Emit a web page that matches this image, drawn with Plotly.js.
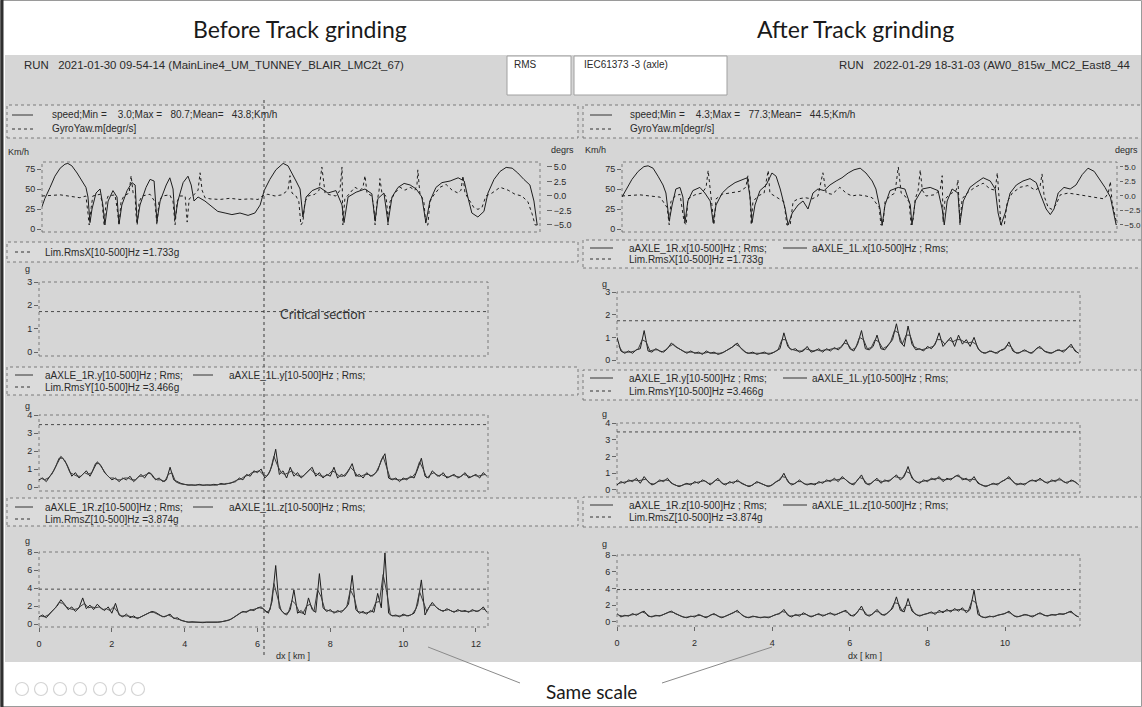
<!DOCTYPE html>
<html>
<head>
<meta charset="utf-8">
<script src="https://cdn.plot.ly/plotly-3.0.1.min.js"></script>
<style>
  html, body { margin: 0; padding: 0; background: #ffffff; overflow: hidden; }
  #chart { width: 1142px; height: 707px; }
</style>
</head>
<body>
<div id="chart"></div>
<script>
// ---------------------------------------------------------------------------
// Run data: speed / yaw rate, and axle-box RMS acceleration per axis
// ---------------------------------------------------------------------------

// Limit values (g) from the IEC61373 category 3 (axle) profile
const LIM_RMS_X = 1.733;
const LIM_RMS_Y = 3.466;
const LIM_RMS_Z = 3.874;

// Before grinding: speed (km/h) and yaw rate (deg/s) along the track (km)
const BEFORE_SPEED_KM = [0.00,0.07,0.20,0.32,0.45,0.57,0.64,0.74,0.87,0.99,1.09,1.14,1.19,1.24,1.34,1.44,1.51,1.56,1.64,1.76,1.86,1.91,1.98,2.11,2.23,2.31,2.36,2.43,2.58,2.68,2.78,2.85,2.93,3.08,3.17,3.25,3.30,3.37,3.50,3.62,3.70,3.77,3.87,4.04,4.22,4.36,4.54,4.71,4.91,5.11,5.28,5.41,5.51,5.65,5.80,5.98,6.10,6.20,6.30,6.40,6.47,6.55,6.70,6.89,7.09,7.29,7.44,7.49,7.59,7.79,8.01,8.18,8.26,8.33,8.48,8.58,8.68,8.83,8.98,9.13,9.28,9.42,9.52,9.62,9.77,9.92,10.12,10.32,10.47,10.56,10.66,10.81,10.96,11.06,11.21,11.36,11.51,11.66,11.80,11.95,12.10,12.20,12.28];
const BEFORE_SPEED_KMH = [28,38,52,66,76,81,82,79,70,60,52,40,8,25,45,50,30,5,35,48,40,6,30,48,58,55,8,30,52,62,60,10,35,55,64,50,12,35,58,66,55,35,40,35,28,22,20,18,20,17,20,30,48,62,74,82,79,70,60,50,15,40,48,52,45,48,30,8,40,46,50,44,10,38,45,8,40,52,57,55,50,40,8,35,52,58,60,64,60,40,20,15,22,45,62,72,77,76,70,62,55,35,5];
const BEFORE_YAW_KM = [0.00,0.45,0.94,1.09,1.14,1.17,1.22,1.26,1.44,1.49,1.54,1.59,1.64,1.81,1.86,1.91,1.96,2.03,2.16,2.21,2.26,2.31,2.33,2.36,2.41,2.48,2.68,2.80,2.85,2.90,2.98,3.17,3.25,3.30,3.35,3.42,3.55,3.60,3.65,3.74,3.87,3.92,3.97,4.04,4.17,4.41,4.66,4.91,5.16,5.36,5.46,5.60,5.78,5.95,6.10,6.15,6.20,6.30,6.37,6.42,6.47,6.52,6.60,6.77,6.87,6.94,7.02,7.14,7.29,7.39,7.44,7.46,7.51,7.64,7.76,7.89,7.96,8.01,8.06,8.18,8.23,8.26,8.31,8.36,8.38,8.43,8.53,8.56,8.58,8.63,8.75,8.88,9.00,9.13,9.25,9.30,9.32,9.37,9.47,9.52,9.57,9.62,9.70,9.87,10.02,10.17,10.32,10.39,10.44,10.49,10.61,10.71,10.81,10.91,11.01,11.16,11.36,11.56,11.73,11.90,12.05,12.15,12.23,12.30];
const BEFORE_YAW_DEG = [0,0.2,-0.3,0,-3,-5,-2,0,0.3,-1,-5,-1,0,0.2,-2,-5,-1,0,0.5,3.5,0.5,0,-3,-5,-1,0,0.3,-1,-5,-1,0,0.2,-1,-5,-1,0,0,-4.5,-0.5,0,1,4,1,-0.3,-0.5,-0.6,-0.4,-0.6,-0.5,-0.6,0,0.3,0,0.2,1,3.5,0.5,0,-1,-5,-4.5,-1,0,0.3,1,5,0.5,0.2,0,1,5,-5,-0.5,0.5,1.5,1,1.5,3.5,0.5,0,-2,-5,-1,1,3,0.5,0,-2,-5,-1,0.5,1.5,1,1.5,1,2,4.5,0.5,-1,-5,-5,-1,0,1.5,2,1,0.5,1,3.5,0.5,-1,-2,-2.3,-2,0,0.5,1.5,1,0.3,0,-1,-3,-5,-5];

// After grinding: speed (km/h) and yaw rate (deg/s) along the track (km)
const AFTER_SPEED_KM = [0.00,0.10,0.24,0.39,0.53,0.63,0.75,0.87,0.99,1.06,1.14,1.21,1.30,1.40,1.47,1.52,1.59,1.71,1.88,2.00,2.13,2.20,2.27,2.42,2.56,2.73,2.90,3.02,3.09,3.14,3.21,3.33,3.48,3.62,3.72,3.82,3.94,4.01,4.11,4.25,4.37,4.49,4.61,4.73,4.88,5.02,5.17,5.31,5.46,5.60,5.75,5.89,6.04,6.13,6.23,6.28,6.35,6.47,6.67,6.83,6.96,7.00,7.08,7.25,7.44,7.63,7.73,7.78,7.85,7.97,8.11,8.16,8.24,8.40,8.55,8.72,8.89,9.01,9.08,9.15,9.25,9.37,9.52,9.68,9.85,10.00,10.09,10.24,10.34,10.43,10.53,10.67,10.82,10.96,11.11,11.25,11.40,11.54,11.66,11.79,11.88,11.93];
const AFTER_SPEED_KMH = [40,50,62,72,78,79,76,66,55,45,10,30,50,52,40,8,35,48,52,45,35,8,30,45,52,58,62,64,40,8,30,48,55,70,66,50,25,5,20,30,35,25,45,50,48,55,60,64,70,74,76,70,60,50,25,5,30,48,52,50,30,5,35,50,52,48,25,5,35,50,45,8,35,52,58,64,60,50,20,5,20,45,55,60,63,58,45,25,18,25,45,52,50,55,68,76,72,62,52,40,20,5];
const AFTER_YAW_KM = [0.00,0.43,0.92,1.09,1.14,1.18,1.28,1.40,1.50,1.55,1.59,1.76,1.93,2.03,2.08,2.13,2.17,2.22,2.27,2.42,2.61,2.85,2.99,3.04,3.09,3.12,3.16,3.28,3.43,3.53,3.57,3.69,3.91,3.98,4.06,4.13,4.25,4.42,4.59,4.73,4.85,4.93,5.07,5.26,5.41,5.55,5.70,5.89,6.04,6.21,6.25,6.30,6.35,6.47,6.59,6.67,6.74,6.83,6.93,6.98,7.03,7.08,7.15,7.20,7.25,7.34,7.53,7.68,7.73,7.75,7.80,7.92,8.07,8.11,8.16,8.21,8.33,8.52,8.72,8.89,9.01,9.06,9.10,9.15,9.23,9.30,9.42,9.61,9.80,9.97,10.09,10.14,10.19,10.29,10.38,10.48,10.58,10.77,10.96,11.18,11.42,11.64,11.74,11.79,11.83,11.91,11.95];
const AFTER_YAW_DEG = [0,0.2,-0.2,-2,-5,-1,0,0.3,-4.5,-5,-0.5,0.2,0.5,1.5,4.4,0.5,-1.5,-5,-0.5,0.3,0.5,0.8,1.5,3.5,0,-5,-1,0,0.5,4.4,0.5,0,-1,-5,-5,-1,-0.5,-0.3,-0.5,0,4,0.5,0.3,1.5,0.5,0,0.2,0,-0.3,-2,-5,-5,-1,0,0.5,5,0.5,0,-1,-5,-4,-0.5,1,4.5,1,0,0.2,1,3.5,-4.5,-0.5,0.3,1,2.8,-5,-0.5,0.5,1.5,2.2,1.2,1,4,-1,-5,-5,-1,0.5,1.5,1.8,1,1.5,3.8,0,-2,-2.3,-1.5,0.2,0.5,0.3,0,-0.3,-0.5,0.5,2.5,-1,-4,-5];

// RMS accelerations (g). Sensor 1R is logged every 100 m from 0 km,
// sensor 1L every 100 m starting 50 m in.
const RMS_SAMPLE_KM = 0.1;
const RMS_1L_START_KM = 0.05;

const BEFORE_Y_1R = [0.4,0.5,0.3,0.6,0.9,1.3,1.7,1.5,1.1,0.6,0.8,0.5,0.7,0.9,0.6,1.0,1.4,1.2,0.8,0.6,0.4,0.5,0.3,0.5,0.4,0.6,0.3,0.5,0.7,0.5,0.8,0.7,0.4,0.5,0.3,0.4,1.1,0.4,0.3,0.2,0.15,0.1,0.12,0.1,0.15,0.1,0.12,0.1,0.15,0.12,0.2,0.15,0.2,0.25,0.3,0.5,0.4,0.7,0.6,0.9,0.8,1.0,0.5,0.7,1.2,2.1,0.7,0.9,0.5,1.1,0.6,0.8,0.5,0.7,0.9,1.1,0.6,0.8,0.5,0.7,0.6,1.1,0.5,0.7,0.6,0.9,1.3,0.6,0.7,0.5,0.8,0.6,0.7,0.9,1.5,1.85,0.5,0.4,0.5,0.3,0.5,0.4,0.6,0.5,1.0,1.6,0.6,0.5,0.9,0.7,0.6,0.8,0.5,0.6,0.7,0.5,0.6,0.8,0.5,0.6,0.7,0.5,0.8,0.6];
const BEFORE_Y_1L = [0.5,0.4,0.5,0.7,1.1,1.6,1.6,1.3,0.8,0.7,0.6,0.6,0.8,0.7,0.8,1.3,1.3,1.0,0.7,0.5,0.5,0.4,0.4,0.5,0.5,0.4,0.4,0.6,0.6,0.7,0.8,0.5,0.4,0.4,0.3,0.7,0.8,0.3,0.2,0.15,0.12,0.1,0.1,0.12,0.1,0.1,0.12,0.12,0.1,0.15,0.15,0.2,0.2,0.3,0.4,0.45,0.6,0.65,0.8,0.85,0.9,0.7,0.6,0.9,1.7,1.2,0.8,0.7,0.8,0.9,0.7,0.6,0.6,0.8,1.0,0.8,0.7,0.6,0.6,0.7,0.9,0.8,0.6,0.6,0.8,1.1,0.9,0.6,0.6,0.7,0.7,0.6,0.8,1.2,1.7,1.0,0.45,0.45,0.4,0.4,0.45,0.5,0.55,0.8,1.4,1.0,0.5,0.7,0.8,0.6,0.7,0.6,0.55,0.65,0.6,0.55,0.7,0.65,0.55,0.65,0.6,0.65,0.7];
const BEFORE_Z_1R = [0.8,1.0,0.7,1.2,1.6,2.0,2.7,2.2,1.6,1.9,1.4,1.8,2.9,1.7,2.1,1.6,2.2,1.8,1.5,1.9,1.2,2.3,1.0,0.8,1.1,0.7,0.9,0.6,0.8,1.0,1.2,1.4,1.3,1.0,0.8,0.9,1.1,0.6,0.7,0.4,0.3,0.2,0.25,0.2,0.2,0.15,0.2,0.2,0.15,0.2,0.25,0.3,0.4,0.6,0.9,1.2,1.4,1.3,1.6,1.5,1.8,1.9,1.5,1.2,2.5,6.5,1.8,1.3,1.0,1.6,3.8,1.2,1.5,1.0,2.9,1.6,1.3,5.6,1.8,1.4,1.6,1.2,1.5,1.3,1.7,2.2,5.4,1.6,1.2,1.4,1.1,1.5,1.3,3.4,1.8,7.9,1.2,0.9,1.0,0.8,1.1,0.9,1.0,1.2,2.2,4.9,1.0,1.8,2.4,1.9,1.6,1.4,1.7,1.5,1.3,1.6,1.4,1.5,1.3,1.6,1.4,1.5,1.9,1.3];
const BEFORE_Z_1L = [0.9,0.8,1.0,1.4,1.8,2.4,2.3,1.9,1.7,1.6,1.7,2.0,2.3,1.8,1.9,1.8,1.9,1.6,1.7,1.5,1.9,1.4,0.9,0.9,0.9,0.8,0.7,0.7,0.9,1.1,1.3,1.3,1.1,0.9,0.8,1.0,0.8,0.6,0.5,0.35,0.25,0.2,0.2,0.2,0.18,0.18,0.2,0.18,0.18,0.22,0.28,0.35,0.5,0.75,1.0,1.3,1.35,1.45,1.55,1.65,1.8,1.7,1.3,1.6,4.5,3.0,1.5,1.1,1.3,2.6,2.2,1.3,1.2,2.0,2.2,1.4,3.8,3.0,1.6,1.5,1.4,1.3,1.4,1.5,1.9,3.8,3.0,1.4,1.3,1.2,1.3,1.4,2.4,2.5,5.5,3.5,1.0,0.9,0.9,0.9,1.0,0.9,1.1,1.7,3.6,2.5,1.4,2.1,2.1,1.7,1.5,1.5,1.6,1.4,1.4,1.5,1.4,1.4,1.4,1.5,1.4,1.7,1.6];

const AFTER_X_1R = [1.0,0.4,0.3,0.4,0.3,0.45,0.5,1.3,0.4,0.35,0.5,0.4,0.35,0.5,0.75,0.6,0.5,0.4,0.3,0.4,0.3,0.35,0.25,0.4,0.3,0.35,0.25,0.3,0.4,0.5,0.6,0.75,0.5,0.35,0.3,0.35,0.25,0.3,0.35,0.25,0.3,0.4,0.5,1.2,0.6,0.45,0.5,0.35,0.4,0.6,0.35,0.4,0.5,0.35,0.5,0.4,0.55,0.45,0.6,0.9,0.5,0.4,0.7,1.3,0.5,0.45,0.6,1.1,0.5,0.45,0.7,0.9,1.6,0.8,0.6,1.5,0.7,0.45,0.5,0.4,0.6,0.5,0.7,1.2,0.6,0.8,1.0,0.6,1.1,0.7,0.9,0.6,1.0,0.5,0.35,0.3,0.4,0.35,0.3,0.45,0.5,0.8,0.4,0.3,0.35,0.45,0.35,0.3,0.5,0.6,0.4,0.35,0.3,0.4,0.45,0.35,0.5,0.7,0.4,0.3];
const AFTER_X_1L = [0.6,0.35,0.35,0.35,0.4,0.5,0.9,0.8,0.4,0.45,0.45,0.35,0.45,0.6,0.7,0.55,0.45,0.35,0.35,0.35,0.3,0.3,0.3,0.35,0.3,0.3,0.3,0.35,0.45,0.55,0.7,0.6,0.45,0.3,0.3,0.3,0.3,0.3,0.3,0.3,0.35,0.45,0.9,0.9,0.5,0.45,0.4,0.4,0.5,0.45,0.4,0.45,0.4,0.45,0.45,0.5,0.5,0.55,0.75,0.7,0.45,0.55,1.0,0.9,0.5,0.55,0.9,0.8,0.5,0.6,0.8,1.3,1.2,0.7,1.1,1.1,0.6,0.5,0.45,0.5,0.55,0.6,0.9,0.9,0.7,0.9,0.8,0.9,0.9,0.8,0.75,0.8,0.7,0.4,0.3,0.35,0.4,0.3,0.4,0.45,0.65,0.6,0.35,0.3,0.4,0.4,0.3,0.4,0.55,0.5,0.35,0.3,0.35,0.45,0.4,0.45,0.6,0.55,0.35];
const AFTER_Y_1R = [0.3,0.5,0.4,0.6,0.5,0.7,0.4,0.8,0.5,0.3,0.4,0.6,0.5,0.7,0.4,0.3,0.2,0.3,0.4,0.3,0.5,0.4,0.6,0.5,0.3,0.5,0.7,0.4,0.3,0.5,0.4,0.6,0.4,0.3,0.2,0.3,0.5,0.4,0.3,0.2,0.3,0.5,0.6,1.0,0.5,0.3,0.4,0.6,0.4,0.3,0.4,0.3,0.5,0.4,0.6,0.5,0.7,0.5,0.8,0.6,0.4,0.3,0.6,0.9,0.4,0.3,0.5,0.7,0.4,0.6,0.5,0.7,0.9,0.6,0.8,1.4,0.7,0.5,0.4,0.6,0.5,0.7,0.6,0.8,0.5,0.7,0.6,0.8,0.9,0.6,0.7,0.5,0.8,0.4,0.3,0.2,0.3,0.4,0.3,0.5,0.6,0.8,0.5,0.3,0.4,0.3,0.5,0.6,0.5,0.7,0.5,0.4,0.6,0.5,0.7,0.5,0.4,0.6,0.5,0.3];
const AFTER_Y_1L = [0.4,0.45,0.5,0.55,0.6,0.55,0.6,0.65,0.4,0.35,0.5,0.55,0.6,0.55,0.35,0.25,0.25,0.35,0.35,0.4,0.45,0.5,0.55,0.4,0.4,0.6,0.55,0.35,0.4,0.45,0.5,0.5,0.35,0.25,0.25,0.4,0.45,0.35,0.25,0.25,0.4,0.55,0.8,0.75,0.4,0.35,0.5,0.5,0.35,0.35,0.35,0.4,0.45,0.5,0.55,0.6,0.6,0.65,0.7,0.5,0.35,0.45,0.75,0.65,0.35,0.4,0.6,0.55,0.5,0.55,0.6,0.8,0.75,0.7,1.1,1.0,0.6,0.45,0.5,0.55,0.6,0.65,0.7,0.65,0.6,0.65,0.7,0.85,0.75,0.65,0.6,0.65,0.6,0.35,0.25,0.25,0.35,0.35,0.4,0.55,0.7,0.65,0.4,0.35,0.35,0.4,0.55,0.55,0.6,0.6,0.45,0.5,0.55,0.6,0.6,0.45,0.5,0.55,0.4];
const AFTER_Z_1R = [1.0,0.6,0.8,0.7,1.0,0.8,1.1,1.3,0.7,0.6,0.8,0.7,0.9,1.1,1.3,1.0,0.8,0.6,0.5,0.7,0.6,0.9,0.7,0.5,0.8,1.0,0.7,0.5,0.7,0.9,1.1,1.4,0.9,0.6,0.5,0.7,0.6,0.5,0.6,0.5,0.7,0.9,1.0,1.5,0.8,0.6,0.9,0.7,1.1,0.8,0.6,0.8,1.0,0.7,0.9,1.1,0.8,1.0,1.2,1.4,0.8,0.7,1.2,1.9,0.9,0.7,1.0,1.5,0.9,0.8,1.2,1.6,3.0,1.4,1.2,2.8,1.3,0.9,0.7,0.9,1.0,1.2,0.9,1.4,1.1,1.5,1.2,1.6,1.3,1.7,1.1,1.5,3.8,0.9,0.6,0.5,0.7,0.6,0.8,0.9,1.0,1.3,0.8,0.6,0.7,0.9,0.8,0.6,0.9,1.1,0.8,0.7,0.9,0.8,1.0,0.9,1.1,1.3,0.8,0.6];
const AFTER_Z_1L = [0.8,0.7,0.75,0.85,0.9,0.95,1.2,1.0,0.65,0.7,0.75,0.8,1.0,1.2,1.15,0.9,0.7,0.55,0.6,0.65,0.75,0.8,0.6,0.65,0.9,0.85,0.6,0.6,0.8,1.0,1.25,1.15,0.75,0.55,0.6,0.65,0.55,0.55,0.55,0.6,0.8,0.95,1.25,1.15,0.7,0.75,0.8,0.9,0.95,0.7,0.7,0.9,0.85,0.8,1.0,0.95,0.9,1.1,1.3,1.1,0.75,0.95,1.55,1.4,0.8,0.85,1.25,1.2,0.85,1.0,1.4,2.3,2.2,1.3,2.0,2.0,1.1,0.8,0.8,0.95,1.1,1.05,1.15,1.25,1.3,1.35,1.4,1.45,1.5,1.4,1.3,2.6,2.3,0.75,0.55,0.6,0.65,0.7,0.85,0.95,1.15,1.05,0.7,0.65,0.8,0.85,0.7,0.75,1.0,0.95,0.75,0.8,0.85,0.9,0.95,1.0,1.2,1.05,0.7];

// Axis tick values
const SPEED_TICKS = [0, 25, 50, 75];
const YAW_TICKS = [-5, -2.5, 0, 2.5, 5];
const X_G_TICKS = [0, 1, 2, 3];
const Y_G_TICKS = [0, 1, 2, 3, 4];
const Z_G_TICKS = [0, 2, 4, 6, 8];
const KM_TICKS_BEFORE = [0, 2, 4, 6, 8, 10, 12];
const KM_TICKS_AFTER = [0, 2, 4, 6, 8, 10];

// ---------------------------------------------------------------------------
// Page geometry helpers (pixel positions -> paper fractions)
// ---------------------------------------------------------------------------
const W = 1142, H = 707;
const fx = v => v / W;
const fy = v => 1 - v / H;

const FONT = 'Liberation Sans, Arial, sans-serif';
const TITLE_FONT = 'Lato, Carlito, Calibri, sans-serif';
const INK = '#2a2a2a';
const PANEL_GRAY = '#d6d6d6';
const LEGEND_GRAY = '#dbdbdb';

const kmAxis = (values, start) => values.map((_, i) => +(start + i * RMS_SAMPLE_KM).toFixed(2));

// ---------------------------------------------------------------------------
// Traces
// ---------------------------------------------------------------------------
const traces = [];
function addLine(x, y, xa, ya, line, name) {
  traces.push({ type: 'scatter', mode: 'lines', x, y, xaxis: xa, yaxis: ya, name,
    line: Object.assign({ width: 1, shape: 'linear' }, line), hoverinfo: 'skip', showlegend: false });
}
const SOLID = { color: '#1e1e1e' };
const SOLID_1L = { color: '#3c3c3c' };
const DOTTED = { color: '#1e1e1e', dash: 'dot' };
const LIMIT = { color: '#4a4a4a', dash: 'dot' };

// Before grinding
addLine(BEFORE_SPEED_KM, BEFORE_SPEED_KMH, 'x', 'y', SOLID, 'speed');
addLine(BEFORE_YAW_KM, BEFORE_YAW_DEG, 'x', 'y2', DOTTED, 'GyroYaw.m');
addLine([0, 12.33], [LIM_RMS_X, LIM_RMS_X], 'x2', 'y3', LIMIT, 'Lim.RmsX');
addLine(kmAxis(BEFORE_Y_1R, 0), BEFORE_Y_1R, 'x3', 'y4', SOLID, 'aAXLE_1R.y');
addLine(kmAxis(BEFORE_Y_1L, RMS_1L_START_KM), BEFORE_Y_1L, 'x3', 'y4', SOLID_1L, 'aAXLE_1L.y');
addLine([0, 12.33], [LIM_RMS_Y, LIM_RMS_Y], 'x3', 'y4', LIMIT, 'Lim.RmsY');
addLine(kmAxis(BEFORE_Z_1R, 0), BEFORE_Z_1R, 'x4', 'y5', SOLID, 'aAXLE_1R.z');
addLine(kmAxis(BEFORE_Z_1L, RMS_1L_START_KM), BEFORE_Z_1L, 'x4', 'y5', SOLID_1L, 'aAXLE_1L.z');
addLine([0, 12.33], [LIM_RMS_Z, LIM_RMS_Z], 'x4', 'y5', LIMIT, 'Lim.RmsZ');

// After grinding
addLine(AFTER_SPEED_KM, AFTER_SPEED_KMH, 'x5', 'y6', SOLID, 'speed');
addLine(AFTER_YAW_KM, AFTER_YAW_DEG, 'x5', 'y7', DOTTED, 'GyroYaw.m');
addLine(kmAxis(AFTER_X_1R, 0), AFTER_X_1R, 'x6', 'y8', SOLID, 'aAXLE_1R.x');
addLine(kmAxis(AFTER_X_1L, RMS_1L_START_KM), AFTER_X_1L, 'x6', 'y8', SOLID_1L, 'aAXLE_1L.x');
addLine([0, 11.93], [LIM_RMS_X, LIM_RMS_X], 'x6', 'y8', LIMIT, 'Lim.RmsX');
addLine(kmAxis(AFTER_Y_1R, 0), AFTER_Y_1R, 'x7', 'y9', SOLID, 'aAXLE_1R.y');
addLine(kmAxis(AFTER_Y_1L, RMS_1L_START_KM), AFTER_Y_1L, 'x7', 'y9', SOLID_1L, 'aAXLE_1L.y');
addLine([0, 11.93], [LIM_RMS_Y, LIM_RMS_Y], 'x7', 'y9', LIMIT, 'Lim.RmsY');
addLine(kmAxis(AFTER_Z_1R, 0), AFTER_Z_1R, 'x8', 'y10', SOLID, 'aAXLE_1R.z');
addLine(kmAxis(AFTER_Z_1L, RMS_1L_START_KM), AFTER_Z_1L, 'x8', 'y10', SOLID_1L, 'aAXLE_1L.z');
addLine([0, 11.93], [LIM_RMS_Z, LIM_RMS_Z], 'x8', 'y10', LIMIT, 'Lim.RmsZ');

// ---------------------------------------------------------------------------
// Axes
// ---------------------------------------------------------------------------
const tickFont = { family: FONT, size: 9, color: INK };
function yAx(top, bottom, range, tickvals, extra) {
  return Object.assign({ domain: [fy(bottom), fy(top)], range, tickvals,
    showgrid: false, zeroline: false, showline: false, ticks: 'outside', ticklen: 4,
    tickcolor: '#666', tickwidth: 1, tickfont: tickFont, fixedrange: true }, extra || {});
}
function xAx(left, right, range, anchor, tickvals) {
  const a = { domain: [fx(left), fx(right)], range, anchor,
    showgrid: false, zeroline: false, showline: false, fixedrange: true };
  if (tickvals) {
    Object.assign(a, { tickvals, ticks: 'outside', ticklen: 4, tickcolor: '#666',
      tickfont: tickFont, ticklabelstandoff: 4 });
  } else {
    Object.assign(a, { showticklabels: false, ticks: '' });
  }
  return a;
}

const L_SPEED = [42, 540], L_ACC = [39, 488];
const R_SPEED = [622, 1117], R_ACC = [617, 1080];

const layout = {
  width: W, height: H,
  margin: { l: 0, r: 0, t: 0, b: 0 },
  paper_bgcolor: '#ffffff', plot_bgcolor: 'rgba(0,0,0,0)',
  showlegend: false,
  font: { family: FONT, size: 10, color: INK },

  xaxis:  xAx(L_SPEED[0], L_SPEED[1], [0, 12.35], 'y'),
  yaxis:  yAx(162, 232, [-3.75, 83.75], SPEED_TICKS, { anchor: 'x' }),
  yaxis2: yAx(162, 232, [-6.21, 5.86], YAW_TICKS, { overlaying: 'y', side: 'right', anchor: 'free',
            position: fx(546), tickformat: '.1f', ticklen: 5 }),

  xaxis2: xAx(L_ACC[0], L_ACC[1], [0, 12.33], 'y3'),
  yaxis3: yAx(282, 356, [-0.17, 3], X_G_TICKS, { anchor: 'x2' }),
  xaxis3: xAx(L_ACC[0], L_ACC[1], [0, 12.33], 'y4'),
  yaxis4: yAx(415, 491, [-0.22, 4], Y_G_TICKS, { anchor: 'x3' }),
  xaxis4: xAx(L_ACC[0], L_ACC[1], [0, 12.33], 'y5', KM_TICKS_BEFORE),
  yaxis5: yAx(552, 627, [-0.33, 8], Z_G_TICKS, { anchor: 'x4' }),

  xaxis5: xAx(R_SPEED[0], R_SPEED[1], [0, 11.95], 'y6'),
  yaxis6: yAx(162, 232, [-3.75, 83.75], SPEED_TICKS, { anchor: 'x5' }),
  yaxis7: yAx(162, 232, [-6.21, 5.86], YAW_TICKS, { overlaying: 'y6', side: 'right', anchor: 'free',
            position: fx(1119), tickformat: '.1f', ticklen: 3,
            tickfont: { family: FONT, size: 8, color: INK } }),

  xaxis6: xAx(R_ACC[0], R_ACC[1], [0, 11.93], 'y8'),
  yaxis8: yAx(292, 363, [-0.13, 3], X_G_TICKS, { anchor: 'x6' }),
  xaxis7: xAx(R_ACC[0], R_ACC[1], [0, 11.93], 'y9'),
  yaxis9: yAx(423, 493, [-0.18, 4], Y_G_TICKS, { anchor: 'x7' }),
  xaxis8: xAx(R_ACC[0], R_ACC[1], [0, 11.93], 'y10', KM_TICKS_AFTER),
  yaxis10: yAx(555, 626, [-0.48, 8], Z_G_TICKS, { anchor: 'x8' }),
};

// ---------------------------------------------------------------------------
// Frame, panels and legend boxes
// ---------------------------------------------------------------------------
const shapes = [];
function rect(x0, y0, x1, y1, style) {
  shapes.push(Object.assign({ type: 'rect', xref: 'paper', yref: 'paper',
    x0: fx(x0), x1: fx(x1), y0: fy(y1), y1: fy(y0), layer: 'below' }, style));
}
function seg(x0, y0, x1, y1, style) {
  shapes.push(Object.assign({ type: 'line', xref: 'paper', yref: 'paper',
    x0: fx(x0), x1: fx(x1), y0: fy(y0), y1: fy(y1) }, style));
}
function ring(cx, cy, r, color) {
  shapes.push({ type: 'circle', xref: 'paper', yref: 'paper',
    x0: fx(cx - r), x1: fx(cx + r), y0: fy(cy + r), y1: fy(cy - r),
    line: { color, width: 1.2 }, fillcolor: 'rgba(0,0,0,0)' });
}
const NOLINE = { width: 0 };
const DOT_BORDER = { color: '#7a7a7a', width: 1, dash: 'dot' };

// window background
rect(5, 55, 1142, 662, { fillcolor: PANEL_GRAY, line: NOLINE });
// selector boxes in the header row
rect(507, 56, 571, 95, { fillcolor: '#ffffff', line: { color: '#a0a0a0', width: 1 } });
rect(574, 56, 727, 95, { fillcolor: '#ffffff', line: { color: '#a0a0a0', width: 1 } });

// legend boxes
[[7, 105, 578, 138], [7, 242, 578, 262], [7, 367, 578, 395], [7, 498, 578, 526],
 [583, 105, 1142, 138], [583, 240, 1142, 268], [583, 370, 1142, 400], [583, 497, 1142, 527]]
  .forEach(b => rect(b[0], b[1], b[2], b[3], { fillcolor: LEGEND_GRAY, line: DOT_BORDER }));

// plot frames
[[L_SPEED[0], 162, L_SPEED[1], 232], [L_ACC[0], 282, L_ACC[1], 356], [L_ACC[0], 415, L_ACC[1], 491],
 [L_ACC[0], 552, L_ACC[1], 627], [R_SPEED[0], 162, R_SPEED[1], 232], [R_ACC[0], 292, R_ACC[1], 363],
 [R_ACC[0], 423, R_ACC[1], 493], [R_ACC[0], 555, R_ACC[1], 626]]
  .forEach(b => rect(b[0], b[1], b[2], b[3], { fillcolor: 'rgba(0,0,0,0)', line: DOT_BORDER }));

// distance cursor
seg(264, 100, 264, 655, { line: { color: '#3a3a3a', width: 1, dash: 'dot' } });

// pointers from the "Same scale" note
seg(520, 683, 428, 647, { line: { color: '#8a8a8a', width: 1 } });
seg(662, 683, 772, 647, { line: { color: '#8a8a8a', width: 1 } });

// outer frame
rect(0.5, 0.5, 1141.5, 706.5, { fillcolor: 'rgba(0,0,0,0)', line: { color: '#9a9a9a', width: 1 }, layer: 'above' });
seg(2, 0, 2, 707, { line: { color: '#303030', width: 3 } });

// greyed-out toolbar buttons in the status strip
[22, 41, 60, 80, 100, 119, 138].forEach(cx => ring(cx, 689, 6.5, '#d4d4d4'));

// legend sample strokes
function sample(x0, x1, y, dotted) {
  seg(x0, y, x1, y, { line: { color: '#333', width: 1, dash: dotted ? 'dot' : 'solid' } });
}

// ---------------------------------------------------------------------------
// Text
// ---------------------------------------------------------------------------
const annotations = [];
function text(x, y, t, opts) {
  opts = opts || {};
  annotations.push({ xref: 'paper', yref: 'paper', x: fx(x), y: fy(y), text: t, showarrow: false,
    xanchor: opts.anchor || 'left', yanchor: 'middle',
    font: { family: opts.family || FONT, size: opts.size || 10, color: opts.color || INK } });
}

text(300, 29, 'Before Track grinding', { anchor: 'center', family: TITLE_FONT, size: 23, color: '#1a1a1a' });
text(855, 29, 'After Track grinding', { anchor: 'center', family: TITLE_FONT, size: 23, color: '#1a1a1a' });

text(22, 65, 'RUN   2021-01-30 09-54-14 (MainLine4_UM_TUNNEY_BLAIR_LMC2t_67)', { size: 11.4 });
text(512, 65, 'RMS', { size: 10 });
text(582, 65, 'IEC61373 -3 (axle)', { size: 10 });
text(837, 65, 'RUN   2022-01-29 18-31-03 (AW0_815w_MC2_East8_44', { size: 11.4 });

// speed / yaw legends
sample(12, 33, 115, false); text(50, 115, 'speed;Min =    3.0;Max =   80.7;Mean=   43.8;Km/h');
sample(12, 33, 129, true);  text(50, 129, 'GyroYaw.m[degr/s]');
sample(590, 612, 115, false); text(628, 115, 'speed;Min =    4.3;Max =   77.3;Mean=   44.5;Km/h');
sample(590, 612, 129, true);  text(628, 129, 'GyroYaw.m[degr/s]');

// acceleration legends
function accLegend(yRow1, yRow2, axis, lim, twoSensors, leftSide) {
  const s1 = leftSide ? [15, 33] : [590, 613];
  const s2 = leftSide ? [193, 213] : [783, 807];
  const tx1 = leftSide ? 43 : 627;
  const tx2 = leftSide ? 227 : 810;
  if (twoSensors) {
    sample(s1[0], s1[1], yRow1, false); text(tx1, yRow1, 'aAXLE_1R.' + axis + '[10-500]Hz ; Rms;');
    sample(s2[0], s2[1], yRow1, false); text(tx2, yRow1, 'aAXLE_1L.' + axis + '[10-500]Hz ; Rms;');
  }
  sample(s1[0], s1[1], yRow2, true);
  text(tx1, yRow2, 'Lim.Rms' + axis.toUpperCase() + '[10-500]Hz =' + lim.toFixed(3) + 'g');
}
accLegend(252, 252, 'x', LIM_RMS_X, false, true);
accLegend(375, 387, 'y', LIM_RMS_Y, true, true);
accLegend(507, 519, 'z', LIM_RMS_Z, true, true);
accLegend(248, 259, 'x', LIM_RMS_X, true, false);
accLegend(378, 391, 'y', LIM_RMS_Y, true, false);
accLegend(505, 517, 'z', LIM_RMS_Z, true, false);

// unit labels
text(6, 152, 'Km/h', { size: 9 });
text(549, 150, 'degrs', { size: 9 });
text(583, 150, 'Km/h', { size: 9 });
text(1140, 150, 'degrs', { size: 9, anchor: 'right' });
[269, 406, 541].forEach(y => text(27, y, 'g', { size: 9, anchor: 'center' }));
[284, 414, 544].forEach(y => text(604, y, 'g', { size: 9, anchor: 'center' }));

text(322, 314, 'Critical section', { anchor: 'center', family: TITLE_FONT, size: 13, color: '#333' });

text(293, 656, 'dx [ km ]', { anchor: 'center', size: 9 });
text(865, 656, 'dx [ km ]', { anchor: 'center', size: 9 });

text(592, 691, 'Same scale', { anchor: 'center', family: TITLE_FONT, size: 19, color: '#1a1a1a' });

layout.shapes = shapes;
layout.annotations = annotations;

Plotly.newPlot('chart', traces, layout, { staticPlot: true, displayModeBar: false });
</script>
</body>
</html>
